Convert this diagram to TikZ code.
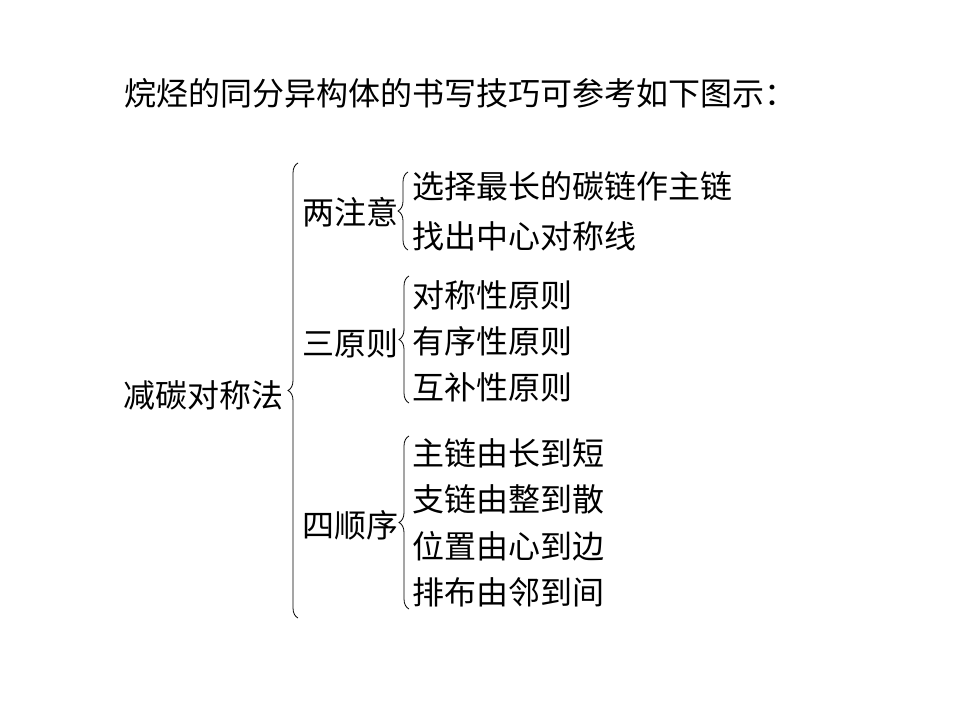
\documentclass[tikz,border=0pt]{standalone}
\usepackage{fontspec}
\setmainfont{Noto Sans CJK SC}
\usetikzlibrary{decorations.pathreplacing}
\tikzset{
  txt/.style={anchor=west,inner sep=0pt,font=\fontsize{32}{36}\selectfont},
  bigbrace/.style={decorate,decoration={brace,amplitude=10pt},line width=0.8pt},
  smallbrace/.style={decorate,decoration={brace,amplitude=10pt},line width=0.8pt}
}
\begin{document}
\begin{tikzpicture}[x=1pt,y=-1pt]
\useasboundingbox (0,0) rectangle (960,720);
\node[txt] (title) at (124,93) {烷烃的同分异构体的书写技巧可参考如下图示：};
\node[txt] (root) at (123,395) {减碳对称法};
\node[txt] (a) at (302,212) {两注意};
\node[txt] (b) at (302,343) {三原则};
\node[txt] (c) at (302,525) {四顺序};
\node[txt] (a1) at (412,186) {选择最长的碳链作主链};
\node[txt] (a2) at (412,236) {找出中心对称线};
\node[txt] (b1) at (412,295) {对称性原则};
\node[txt] (b2) at (412,341) {有序性原则};
\node[txt] (b3) at (412,387) {互补性原则};
\node[txt] (c1) at (412,453) {主链由长到短};
\node[txt] (c2) at (412,499) {支链由整到散};
\node[txt] (c3) at (412,546) {位置由心到边};
\node[txt] (c4) at (412,592) {排布由邻到间};
\coordinate (B0b) at (298,618); \coordinate (B0t) at (298,163);
\coordinate (Bab) at (408,250); \coordinate (Bat) at (408,172);
\coordinate (Bbb) at (409,403); \coordinate (Bbt) at (409,276);
\coordinate (Bcb) at (409,609); \coordinate (Bct) at (409,436);
\draw[bigbrace] (B0b) -- (B0t);
\draw[smallbrace] (Bab) -- (Bat);
\draw[smallbrace] (Bbb) -- (Bbt);
\draw[smallbrace] (Bcb) -- (Bct);
\end{tikzpicture}
\end{document}
